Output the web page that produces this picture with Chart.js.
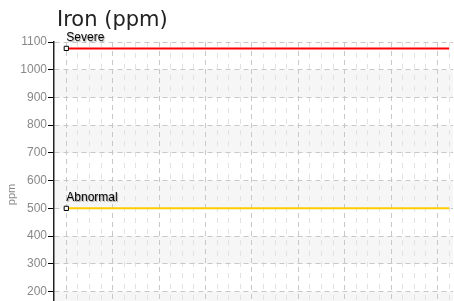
<!DOCTYPE html>
<html>
<head>
<meta charset="utf-8">
<script src="https://cdn.jsdelivr.net/npm/chart.js@4/dist/chart.umd.min.js"></script>
<style>
    html, body { margin: 0; padding: 0; background: #fff; overflow: hidden; }
    #chart { display: block; }
</style>
</head>
<body>
<canvas id="chart" width="454" height="360"></canvas>
<script>
'use strict';

// Sample positions (one unit = one minor grid step) and limit values
const sampleX = [0, 33];
const severeValues = [1077, 1077];
const abnormalValues = [500, 500];
const limitNames = ['Severe', 'Abnormal'];
const limitColors = ['#ff0000', '#ffcc00'];
const yTicks = [0, 100, 200, 300, 400, 500, 600, 700, 800, 900, 1000, 1100];
const chartTitle = 'Iron (ppm)';

const toPoints = function (values) {
    return values.map((v, i) => ({ x: sampleX[i], y: v }));
};

// Light grey bands every other 100 ppm
const bandsPlugin = {
    id: 'bands',
    beforeDraw(chart) {
        const { ctx, chartArea, scales } = chart;
        ctx.save();
        ctx.fillStyle = '#f6f6f6';
        for (let v = 100; v < 1100; v += 200) {
            const top = scales.y.getPixelForValue(v + 100);
            const bottom = scales.y.getPixelForValue(v);
            ctx.fillRect(chartArea.left, top, chartArea.right - chartArea.left, bottom - top);
        }
        ctx.restore();
    },
};

// Title drawn a little right of the y axis, like the original
const titlePlugin = {
    id: 'leftTitle',
    afterDraw(chart) {
        const { ctx, chartArea } = chart;
        ctx.save();
        ctx.font = '21px "DejaVu Sans", Verdana, sans-serif';
        ctx.fillStyle = '#222';
        ctx.textAlign = 'left';
        ctx.textBaseline = 'alphabetic';
        ctx.fillText(chartTitle, chartArea.left + 3, 26);
        ctx.restore();
    },
};

// Text label above the first point of each limit line
const limitLabelsPlugin = {
    id: 'limitLabels',
    afterDatasetsDraw(chart) {
        const { ctx } = chart;
        ctx.save();
        ctx.font = '12px "Liberation Sans", Arial, sans-serif';
        ctx.fillStyle = '#000';
        ctx.textAlign = 'left';
        ctx.textBaseline = 'alphabetic';
        ctx.shadowColor = 'rgba(0,0,0,0.35)';
        ctx.shadowBlur = 1;
        ctx.shadowOffsetX = 1;
        ctx.shadowOffsetY = 1;
        chart.data.datasets.forEach((ds, i) => {
            const pt = chart.getDatasetMeta(i).data[0];
            ctx.fillText(ds.label, pt.x, pt.y - 7);
        });
        ctx.restore();
    },
};

const gridTicks = function (scale, wantMajor) {
    const ticks = [];
    for (let k = Math.ceil(scale.min); k <= Math.floor(scale.max); k++) {
        if (k < 0) continue;
        const isMajor = k % 4 === 0;
        if (isMajor === wantMajor) ticks.push({ value: k });
    }
    scale.ticks = ticks;
};

const makeDataset = function (i, values) {
    return {
        label: limitNames[i],
        data: toPoints(values),
        borderColor: limitColors[i],
        borderWidth: 2,
        pointStyle: 'rect',
        pointRadius: (c) => (c.dataIndex === 0 ? 3 : 0),
        pointBackgroundColor: '#fff',
        pointBorderColor: '#000',
        pointBorderWidth: 1,
        tension: 0,
    };
};

new Chart(document.getElementById('chart'), {
    type: 'line',
    data: {
        datasets: [makeDataset(0, severeValues), makeDataset(1, abnormalValues)],
    },
    options: {
        responsive: false,
        animation: false,
        layout: { autoPadding: false, padding: { left: 0, right: 1, top: 42, bottom: 13 } },
        plugins: {
            legend: { display: false },
            tooltip: { enabled: false },
            title: { display: false },
        },
        scales: {
            x: {
                type: 'linear',
                min: -1.06,
                max: 33.33,
                afterBuildTicks: (s) => gridTicks(s, true),
                ticks: { display: false },
                grid: { color: '#c8c8c8', drawTicks: false },
                border: { display: false, dash: [5, 4] },
            },
            x2: {
                type: 'linear',
                min: -1.06,
                max: 33.33,
                afterBuildTicks: (s) => gridTicks(s, false),
                ticks: { display: false },
                grid: { color: '#e2e2e2', drawTicks: false },
                border: { display: false, dash: [5, 6] },
            },
            y: {
                min: 0,
                max: 1100,
                afterBuildTicks: (s) => { s.ticks = yTicks.map((v) => ({ value: v })); },
                afterFit: (s) => { s.width = 54; },
                ticks: {
                    color: '#888',
                    padding: 1,
                    callback: (v) => String(v),
                    font: { family: '"Liberation Sans", Arial, sans-serif', size: 12 },
                },
                grid: {
                    color: '#c8c8c8',
                    tickColor: '#000',
                    tickLength: 6,
                    tickWidth: 1,
                },
                border: { display: true, color: '#222', width: 1.5, dash: [5, 4] },
                title: {
                    display: true,
                    text: 'ppm',
                    color: '#888',
                    padding: { top: 5, bottom: 0 },
                    font: { family: '"Liberation Sans", Arial, sans-serif', size: 11 },
                },
            },
        },
    },
    plugins: [bandsPlugin, titlePlugin, limitLabelsPlugin],
});
</script>
</body>
</html>
